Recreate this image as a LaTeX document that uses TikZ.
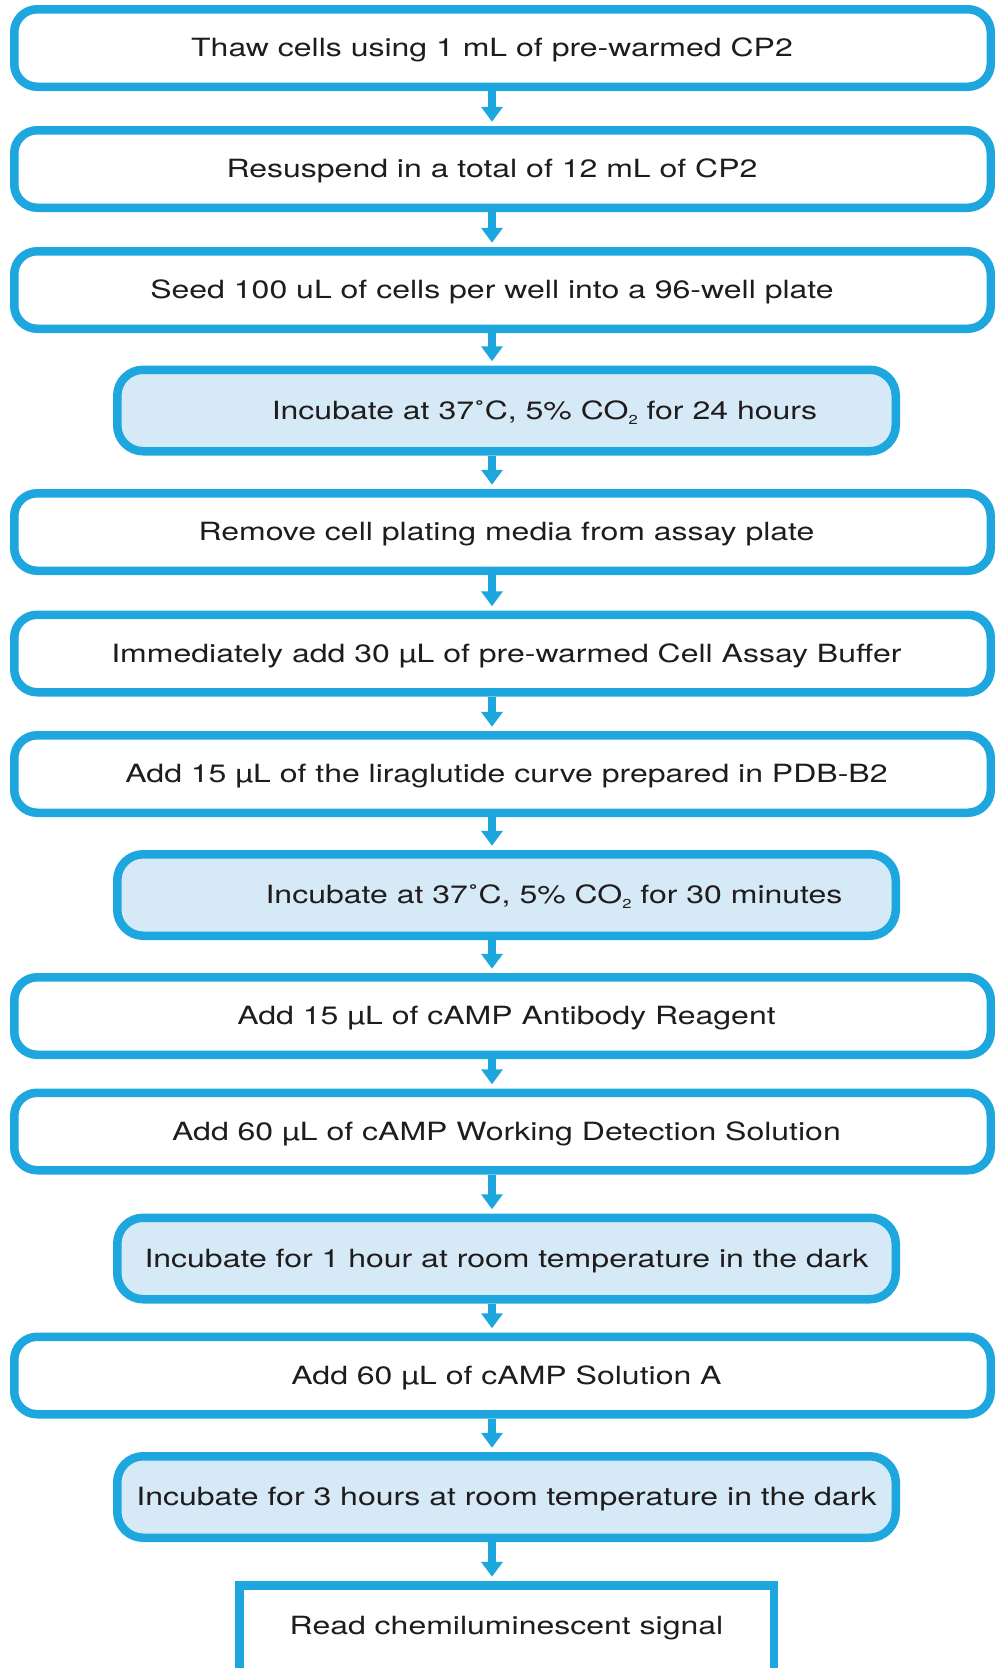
\documentclass[tikz,border=0pt]{standalone}
\usepackage{fontspec}
\setmainfont{TeX Gyre Heros}[FakeStretch=1.275]
\usetikzlibrary{arrows.meta}
\definecolor{flowblue}{HTML}{1EA7DF}
\definecolor{incfill}{HTML}{D6E9F6}
\definecolor{txt}{HTML}{1F1C1D}
\newcommand{\subtwo}{\raisebox{-5pt}{\fontsize{13}{13}\selectfont 2}}
\begin{document}
\begin{tikzpicture}[x=1pt,y=-1pt,
  basebox/.style={draw=flowblue, line width=8.5pt, inner sep=0pt,
    text height=17.7pt, text depth=0pt, text=txt,
    font=\fontsize{25.1}{28}\selectfont},
  widebox/.style={basebox, fill=white, rounded corners=23pt,
    minimum width=976.5pt, minimum height=77.5pt},
  incbox/.style={basebox, fill=incfill, rounded corners=26pt,
    minimum width=778.5pt, minimum height=81.5pt},
  lastbox/.style={basebox, fill=white, sharp corners,
    minimum width=534.5pt, text height=48.75pt, text depth=60pt},
  flow/.style={draw=flowblue, line width=8.4pt,
    -{Triangle[length=15pt,width=21pt]}, shorten >=4.25pt}]
\useasboundingbox (0,0) rectangle (995,1668);
\clip (0,0) rectangle (995,1668);
\coordinate (ax) at (492,0);
\node[widebox] (b1) at (502.5,48) {Thaw cells using 1 mL of pre-warmed CP2\hspace*{21pt}};
\node[widebox] (b2) at (502.5,169) {Resuspend in a total of 12 mL of CP2\hspace*{21pt}};
\node[widebox] (b3) at (502.5,290) {Seed 100 uL of cells per well into a 96-well plate\hspace*{21pt}};
\node[incbox] (b4) at (506.5,410.5) {\hspace*{76pt}Incubate at 37˚C, 5\% CO\subtwo{} for 24 hours};
\node[widebox] (b5) at (502.5,532) {\hspace*{8pt}Remove cell plating media from assay plate};
\node[widebox] (b6) at (502.5,653.5) {\hspace*{8pt}Immediately add 30 µL of pre-warmed Cell Assay Buffer};
\node[widebox] (b7) at (502.5,774) {\hspace*{8pt}Add 15 µL of the liraglutide curve prepared in PDB-B2};
\node[incbox] (b8) at (506.5,895) {\hspace*{95pt}Incubate at 37˚C, 5\% CO\subtwo{} for 30 minutes};
\node[widebox] (b9) at (502.5,1016) {\hspace*{8pt}Add 15 µL of cAMP Antibody Reagent};
\node[widebox] (b10) at (502.5,1131.5) {\hspace*{8pt}Add 60 µL of cAMP Working Detection Solution};
\node[incbox] (b11) at (506.5,1258.5) {Incubate for 1 hour at room temperature in the dark};
\node[widebox] (b12) at (502.5,1375.5) {\hspace*{8pt}Add 60 µL of cAMP Solution A};
\node[incbox] (b13) at (506.5,1497) {Incubate for 3 hours at room temperature in the dark};
\node[lastbox, anchor=base] (b14) at (506.5,1634) {Read chemiluminescent signal};
\foreach \a/\b in {b1/b2,b2/b3,b3/b4,b4/b5,b5/b6,b6/b7,b7/b8,b8/b9,b9/b10,b10/b11,b11/b12,b12/b13,b13/b14}
  \draw[flow] (\a.south -| ax) -- (\b.north -| ax);
\end{tikzpicture}
\end{document}
